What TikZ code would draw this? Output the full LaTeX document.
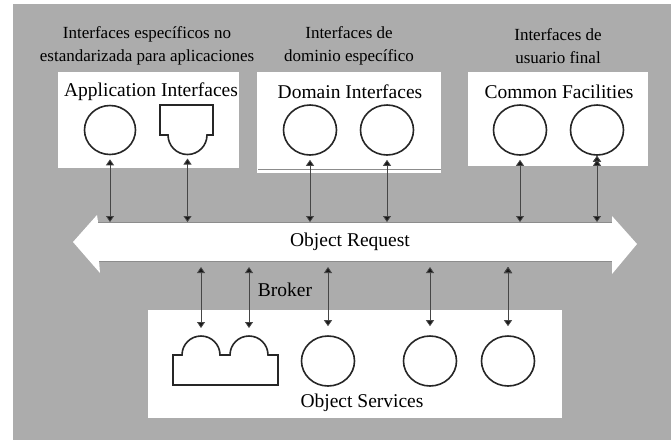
\documentclass[tikz,border=0pt]{standalone}
\usepackage{fontspec}
\setmainfont{Liberation Serif}
\usetikzlibrary{arrows.meta,shapes.geometric}
\definecolor{bggray}{RGB}{172,172,172}
\definecolor{linkgray}{RGB}{70,70,70}
\definecolor{edgegray}{RGB}{140,140,140}
\tikzset{
  iface/.style={ellipse,draw=black!85,line width=1.6pt,minimum width=53pt,minimum height=50pt,inner sep=0pt},
  outline/.style={draw=black!85,line width=1.6pt,fill=white},
  panel/.style={fill=white,inner sep=0pt},
  link/.style={{Triangle[width=8pt,length=6pt,fill=black!90]}-{Triangle[width=8pt,length=6pt,fill=black!90]},draw=linkgray,line width=0.8pt},
  lbl/.style={align=center,font=\fontsize{17}{23}\selectfont},
  ttl/.style={font=\fontsize{19.5}{22}\selectfont}
}

\begin{document}
\begin{tikzpicture}[x=1pt,y=1pt]
\useasboundingbox (0,0) rectangle (671,-440);
\fill[bggray] (13,-4) rectangle (671,-440);

% headings
\node[lbl] (h1) at (147,-46) {Interfaces específicos no\\estandarizada para aplicaciones};
\node[lbl] (h2) at (349,-46) {Interfaces de\\dominio específico};
\node[lbl] (h3) at (558,-46) {Interfaces de\\usuario final};

% panels
\node[panel,minimum width=181pt,minimum height=96pt] (P1) at (148.5,-120) {};
\node[panel,minimum width=184pt,minimum height=101pt] (P2) at (349,-122.5) {};
\node[panel,minimum width=180pt,minimum height=94pt] (P3) at (558,-119) {};
\node[panel,minimum width=414pt,minimum height=108pt] (P4) at (355,-364) {};
\draw[edgegray] (258,-169) -- (441,-169);

% panel titles
\node[ttl] (t1) at (151,-92) {Application Interfaces};
\node[ttl] (t2) at (350,-92) {Domain Interfaces};
\node[ttl] (t3) at (559,-92) {Common Facilities};
\node[ttl] (t4) at (362,-403) {Object Services};

% interfaces
\node[iface,minimum width=51pt,minimum height=49pt] (A1) at (110,-130) {};
\draw[outline] (160,-105) -- (213,-105) -- (213,-135) -- (207,-135)
  arc[start angle=0,end angle=-180,radius=19.5pt] -- (160,-135) -- cycle;
\coordinate (A2) at (187.5,-154.5);
\node[iface] (D1) at (310,-130) {};
\node[iface] (D2) at (387,-130) {};
\node[iface] (C1) at (520,-130) {};
\node[iface] (C2) at (597,-130) {};

% services
\draw[outline] (173,-385) -- (173,-355) -- (182,-355)
  arc[start angle=180,end angle=0,radius=19pt] -- (230,-355)
  arc[start angle=180,end angle=0,radius=19pt] -- (278,-355) -- (278,-385) -- cycle;
\coordinate (S1) at (201,-336);
\coordinate (S2) at (249,-336);
\node[iface] (S3) at (328,-361) {};
\node[iface] (S4) at (430,-361) {};
\node[iface] (S5) at (508,-361) {};

% bus
\fill[white] (73,-242) -- (97,-215) -- (98,-222) -- (612,-222) -- (612,-216)
  -- (637,-244) -- (612,-274) -- (612,-261) -- (99,-261) -- (100,-273) -- cycle;
\draw[edgegray] (98,-222) -- (612,-222);
\draw[edgegray] (99,-261) -- (612,-261);
\node[ttl] (orb) at (350,-242) {Object Request};
\node[ttl] (brk) at (285,-290) {Broker};

% bus ends of the links
\coordinate (u1) at (110,-222);
\coordinate (u2) at (187.5,-222);
\coordinate (u3) at (310,-222);
\coordinate (u4) at (387,-222);
\coordinate (u5) at (520,-222);
\coordinate (u6) at (597,-222);
\coordinate (l1) at (201,-267);
\coordinate (l2) at (249,-267);
\coordinate (l3) at (328,-267);
\coordinate (l4) at (430,-267);
\coordinate (l5) at (508,-267);

\path[link]
% upper links
(A1.south) edge[shorten <=4pt] (u1)
(A2) edge[shorten <=4pt] (u2)
(D1.south) edge[shorten <=4pt] (u3)
(D2.south) edge[shorten <=4pt] (u4)
(C1.south) edge[shorten <=4pt] (u5)
(C2.south) edge[shorten <=4pt] (u6);

\path[link]
% lower links
(l1) edge[shorten >=8pt] (S1)
(l2) edge[shorten >=8pt] (S2)
(l3) edge[shorten >=9pt] (S3.north)
(l4) edge[shorten >=9pt] (S4.north)
(l5) edge[shorten >=9pt] (S5.north);

\end{tikzpicture}
\end{document}
